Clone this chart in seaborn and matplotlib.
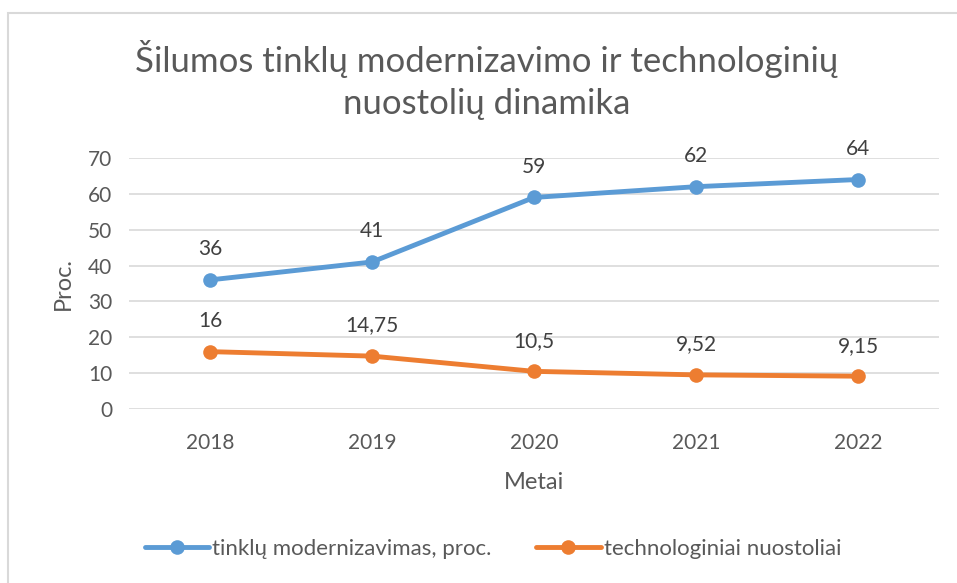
import matplotlib
matplotlib.use("Agg")
import matplotlib.pyplot as plt
import seaborn as sns
import pandas as pd
from matplotlib.patches import Rectangle
from matplotlib.lines import Line2D

years = ["2018", "2019", "2020", "2021", "2022"]
modern = [36, 41, 59, 62, 64]
nuost = [16, 14.75, 10.5, 9.52, 9.15]
modern_labels = ["36", "41", "59", "62", "64"]
nuost_labels = ["16", "14,75", "10,5", "9,52", "9,15"]
series_names = ["tinklų modernizavimas, proc.", "technologiniai nuostoliai"]
yticks = [0, 10, 20, 30, 40, 50, 60, 70]

sns.set_theme(style="white")
FONT = ["Lato", "DejaVu Sans"]
plt.rcParams["font.family"] = FONT
TXT = "#595959"
BLUE = "#5B9BD5"
ORANGE = "#ED7D31"

df = pd.DataFrame({
    "Metai": years * 2,
    "val": modern + nuost,
    "series": [series_names[0]] * 5 + [series_names[1]] * 5,
})

fig = plt.figure(figsize=(9.57, 5.83), dpi=100)
fig.patches.append(Rectangle((8 / 957, -0.1), 1.2, 1 - 13 / 583 + 0.1, transform=fig.transFigure,
                             fill=False, edgecolor="#D9D9D9", linewidth=1.5))
ax = fig.add_axes([129 / 957, 1 - 409 / 583, 810 / 957, (409 - 158) / 583])
sns.lineplot(data=df, x="Metai", y="val", hue="series", palette=[BLUE, ORANGE],
             marker="o", markersize=10.5, markeredgewidth=0, linewidth=3.5, ax=ax,
             legend=False, sort=False)
ax.set_xlim(-0.5, 4.5)
ax.set_ylim(0, 70)
ax.set_yticks(yticks)
ax.grid(axis="y", color="#D9D9D9", linewidth=1.2)
ax.set_axisbelow(True)
for s in ax.spines.values():
    s.set_visible(False)
ax.tick_params(axis="both", length=0, labelsize=15, labelcolor=TXT)
ax.tick_params(axis="y", pad=12)
ax.tick_params(axis="x", pad=17)
ax.set_xlabel("Metai", fontsize=17, color=TXT, labelpad=14)
ax.set_ylabel("Proc.", fontsize=17, color=TXT, labelpad=10)

for i, (v, l) in enumerate(zip(modern, modern_labels)):
    ax.annotate(l, (i, v), xytext=(0, 22), textcoords="offset points",
                ha="center", va="center", fontsize=15, color="#404040")
for i, (v, l) in enumerate(zip(nuost, nuost_labels)):
    ax.annotate(l, (i, v), xytext=(0, 22), textcoords="offset points",
                ha="center", va="center", fontsize=15, color="#404040")

fig.text(487 / 957, 1 - 80 / 583, "Šilumos tinklų modernizavimo ir technologinių\nnuostolių dinamika",
         ha="center", va="center", fontsize=25, color=TXT, linespacing=1.4)

handles = [Line2D([0], [0], color=BLUE, lw=3.5, marker="o", markersize=10.5, markeredgewidth=0),
           Line2D([0], [0], color=ORANGE, lw=3.5, marker="o", markersize=10.5, markeredgewidth=0)]
fig.legend(handles, series_names, loc="center", bbox_to_anchor=(493 / 957, 1 - 549 / 583),
           ncol=2, frameon=False, fontsize=16, labelcolor=TXT, handlelength=2.9,
           handletextpad=0.15, columnspacing=2.0)

fig.savefig("out.png", dpi=100)
